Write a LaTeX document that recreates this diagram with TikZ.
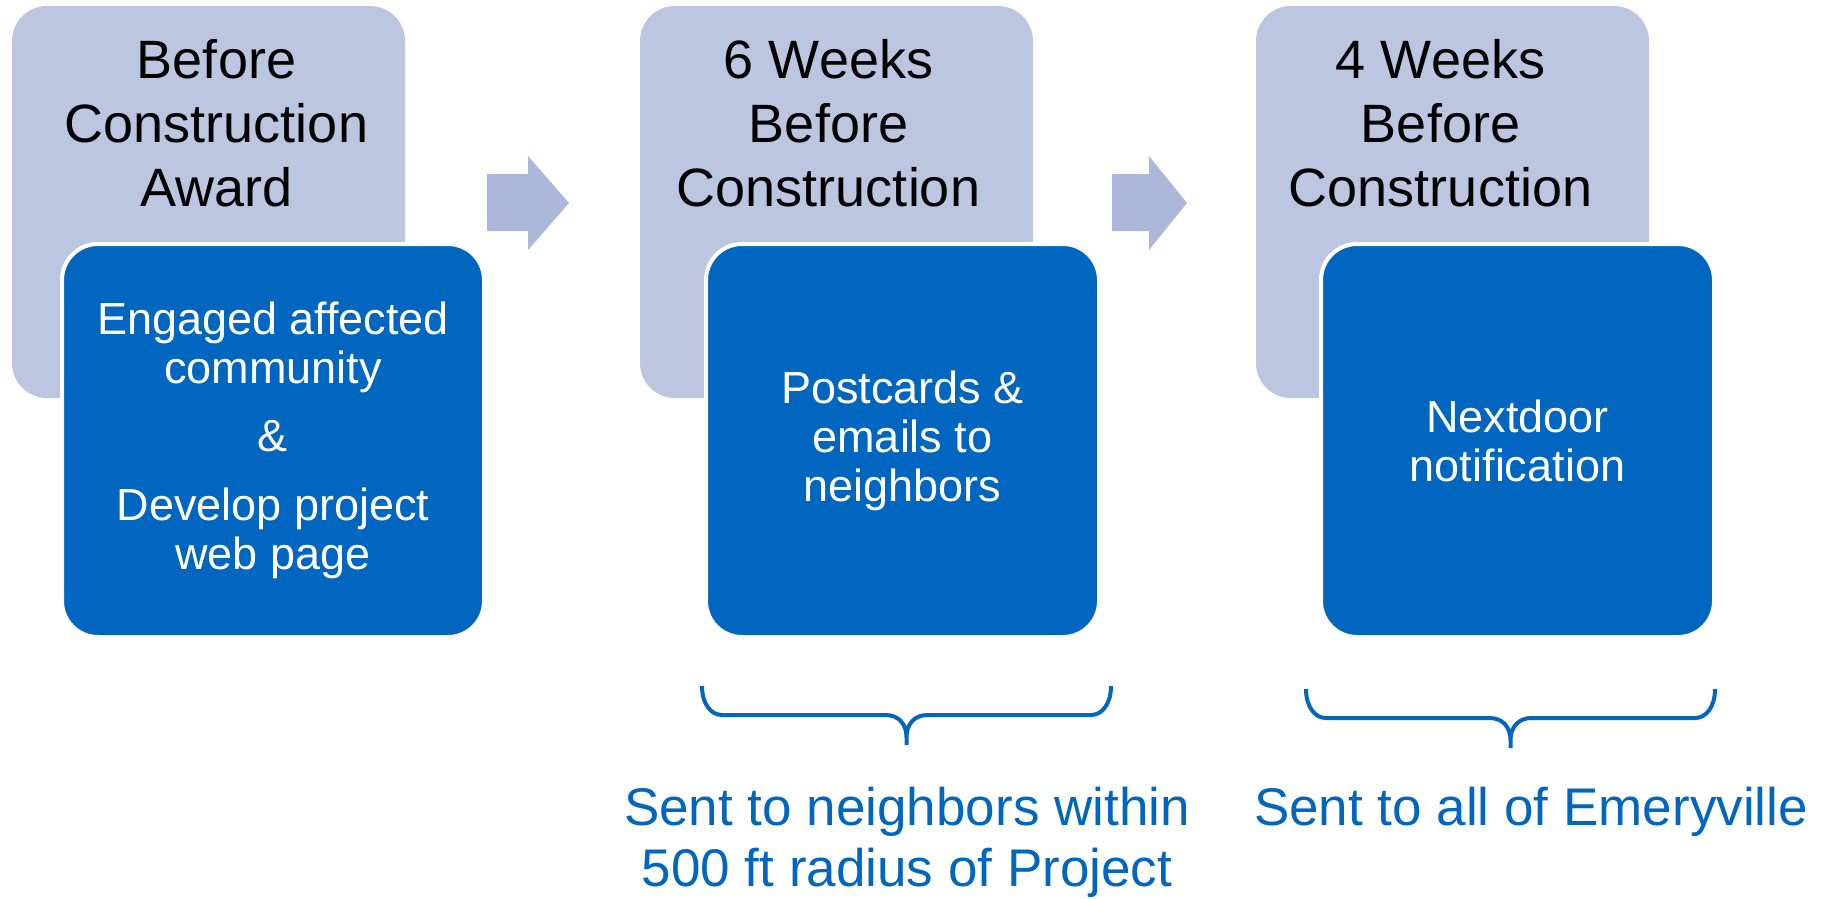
\documentclass[tikz,border=0pt]{standalone}
\usepackage{fontspec}
\setmainfont{Liberation Sans}
\usetikzlibrary{calc}
\definecolor{stagegray}{RGB}{189,198,224}
\definecolor{stepblue}{RGB}{0,102,192}
\definecolor{arrowgray}{RGB}{171,184,218}

\begin{document}
\begin{tikzpicture}[x=1pt,y=-1pt,
	stage/.style={fill=stagegray,rounded corners=35pt,minimum width=393pt,minimum height=392pt,inner sep=0pt,outer sep=0pt,anchor=north west},
	stagetext/.style={align=center,inner sep=0pt,font=\fontsize{54}{64}\selectfont},
	action/.style={fill=stepblue,draw=white,line width=4pt,rounded corners=36pt,minimum width=393pt,minimum height=393pt,inner sep=0pt,outer sep=0pt,anchor=north west,text=white,align=center,font=\fontsize{45}{49}\selectfont},
	note/.style={anchor=north,inner sep=0pt,text=stepblue,align=center,font=\fontsize{53}{64}\selectfont},
	bracket/.style={draw=stepblue,line width=4pt}]
	\useasboundingbox (0,0) rectangle (1822,898);
	\node[stage] (when1) at (12,6) {};
	\node[stage] (when2) at (640,6) {};
	\node[stage] (when3) at (1256,6) {};
	\node[stagetext] (when1t) at ($(when1.north)+(8,117)$) {Before\\Construction\\Award};
	\node[stagetext] (when2t) at ($(when2.north)+(-8,117)$) {6 Weeks\\Before\\Construction};
	\node[stagetext] (when3t) at ($(when3.north)+(-12,117)$) {4 Weeks\\Before\\Construction};
	\node[action,minimum width=422pt] (act1) at (62,244) {Engaged affected\\community\\[19pt]\&\\[20pt]Develop project\\web page};
	\node[action] (act2) at (706,244) {Postcards \&\\emails to\\neighbors};
	\node[action] (act3) at (1321,244) {Nextdoor\\notification};
	\coordinate (ar1) at (487,174);
	\coordinate (ar2) at (1112,174);
	\foreach \a/\s/\h in {ar1/41/41,ar2/37/38}
	\fill[arrowgray] (\a) -- ++(\s,0) -- ++(0,-18) -- ++(\h,47) -- ++(-\h,47) -- ++(0,-19) -- ++(-\s,0) -- cycle;
	\coordinate (sent1L) at (702,686);
	\coordinate (sent1R) at (1111,686);
	\coordinate (sent2L) at (1306,689);
	\coordinate (sent2R) at (1715,689);
	\foreach \brc in {sent1,sent2}
	\draw[bracket] (\brc L) .. controls +(0,18) and +(-11,0) .. ($(\brc L)+(20,29)$) -- ($(\brc L)!.5!(\brc R)+(-21,29)$) .. controls +(13,0) and +(0,-13) .. ($(\brc L)!.5!(\brc R)+(0,51)$) -- ++(0,8)
		($(\brc L)!.5!(\brc R)+(0,51)$) .. controls +(0,-13) and +(-13,0) .. ($(\brc L)!.5!(\brc R)+(21,29)$) -- ($(\brc R)+(-20,29)$) .. controls +(11,0) and +(0,18) .. (\brc R);
	\node[note] (sent1t) at (907,787) {Sent to neighbors within\\[-3pt]500 ft radius of Project};
	\node[note] (sent2t) at (1531,787) {Sent to all of Emeryville};
\end{tikzpicture}
\end{document}
